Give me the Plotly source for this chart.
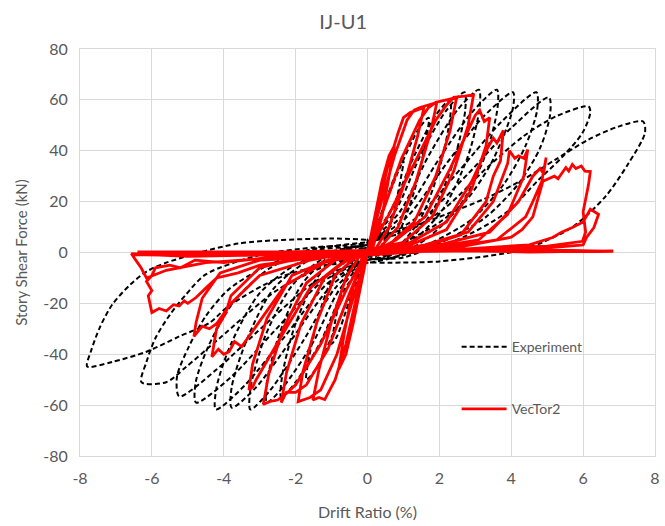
import plotly.graph_objects as go

# ---------------- Experiment (black dashed) cycles: (drift %, shear kN) ----------------
exp_c1 = [(0,0),(0.5,20),(0.85,33),(1.0,36),(0.95,31),(0.7,14),(0.4,3),(0.15,-1),(0,-2),
          (-0.5,-19),(-0.85,-33),(-1.0,-36),(-0.95,-31),(-0.7,-14),(-0.4,-3),(-0.15,1),(0,2)]
exp_c2 = [(0,1),(0.8,30),(1.4,48),(1.7,53),(1.65,46),(1.3,24),(0.8,6),(0.3,-1),(0,-2),
          (-0.8,-27),(-1.4,-45),(-1.7,-50),(-1.65,-43),(-1.3,-22),(-0.8,-5),(-0.3,1),(0,2)]
exp_c3 = [(0,2),(0.7,18),(1.3,38),(1.9,54),(2.3,60),(2.3,53),(2.0,33),(1.5,14),(0.9,3),(0.3,-2),(0,-3),
          (-0.7,-16),(-1.3,-35),(-2.0,-51),(-2.4,-57),(-2.38,-49),(-2.05,-30),(-1.5,-12),(-0.9,-2),(-0.3,2),(0,3)]
exp_c4 = [(0,3),(0.8,17),(1.5,39),(2.2,56),(2.7,63),(2.72,56),(2.4,36),(1.8,16),(1.1,4),(0.4,-2),(0,-3),
          (-0.8,-15),(-1.5,-35),(-2.3,-52),(-2.8,-59),(-2.8,-51),(-2.45,-32),(-1.85,-13),(-1.1,-2),(-0.4,2),(0,3)]
exp_c5 = [(0,3),(0.9,16),(1.7,38),(2.5,56),(3.1,64),(3.12,57),(2.8,38),(2.1,17),(1.3,5),(0.5,-2),(0,-3),
          (-0.9,-14),(-1.8,-35),(-2.7,-54),(-3.26,-61.7),(-3.25,-53),(-2.85,-33),(-2.1,-13),(-1.2,-2),(-0.4,2),(0,3)]
exp_c6 = [(0,3),(1.0,15),(2.0,37),(2.9,55),(3.6,64),(3.62,57),(3.3,39),(2.6,19),(1.7,6),(0.7,-2),(0,-3),
          (-1.0,-13),(-2.1,-34),(-3.1,-53),(-3.78,-61),(-3.78,-53),(-3.35,-34),(-2.6,-14),(-1.5,-2),(-0.5,2),(0,3)]
exp_c7 = [(0,3),(1.1,14),(2.2,35),(3.2,53),(4.05,63),(4.05,57),(3.78,45.6),(3.4,34),(2.76,20.8),(2.0,11.8),(0.9,3),(0,-3),
          (-1.1,-12),(-2.3,-33),(-3.4,-52),(-4.22,-61.7),(-4.2,-53),(-3.8,-36),(-3.0,-16),(-1.9,-4),(-0.7,1),(0,3)]
exp_c8 = [(0,3),(1.3,13),(2.6,33),(3.7,51),(4.7,63),(4.72,56),(4.4,42),(3.8,27),(2.9,13),(1.8,4),(0.7,-2),(0,-3),
          (-1.3,-12),(-2.6,-31),(-3.8,-49),(-4.77,-59),(-4.78,-51),(-4.4,-36),(-3.7,-19),(-2.7,-6),(-1.4,1),(0,3)]
exp_c9 = [(0,4),(1.4,12),(2.8,31),(4.0,49),(5.05,61),(5.08,54),(4.8,41),(4.2,27),(3.3,14),(2.2,5),(1.0,-2),(0,-3),
          (-1.4,-11),(-2.9,-29),(-4.2,-46),(-5.24,-56.6),(-5.3,-48.7),(-4.97,-37),(-4.5,-25),(-3.86,-14.5),(-2.84,-5.5),(-1.57,1.2),(0,4)]
exp_c10 = [(0,4),(1.2,9),(2.2,18),(3.3,33),(4.33,45.6),(5.24,53.5),(6.15,57.4),(6.2,55),(5.98,47),(5.43,37.7),(4.77,28.7),
           (3.86,15.7),(2.5,5),(1.0,-1),(0,-4),(-0.63,-2.8),(-2.48,-14.5),(-4.14,-34),(-5.05,-45),(-5.6,-51),(-6.29,-51),
           (-6.15,-43),(-5.9,-33.6),(-5.5,-24.5),(-5.05,-16.5),(-4.5,-8.6),(-3.0,-1),(-1.5,2),(0,4)]
exp_c11 = [(0,5),(1.0,9),(2.0,14),(3.4,22),(4.33,28.7),(5.24,36.6),(6.15,44.4),(6.98,49.5),(7.67,51.5),(7.72,47),
           (7.26,35),(6.62,22),(5.7,10),(4.33,1.2),(2.0,-3.5),(0.63,-4),(0,-4),(-1.2,-5),(-2.48,-10),(-3.86,-21),
           (-4.4,-27.7),(-5.24,-33),(-6.15,-39),(-7.1,-43),(-7.8,-44.8),(-7.7,-39),(-7.45,-29.5),(-7.1,-20.4),
           (-6.6,-12.6),(-6.15,-7.5),(-5.6,-4),(-3.6,3.5),(-1.0,5.5),(0,5)]

# ---------------- VecTor2 (red solid) cycles ----------------
vt_p0 = [(0,0),(0.2,14),(0.4,28),(0.6,38),(0.75,42),(0.6,30),(0.4,14),(0.15,2),(0,0)]
vt_n0 = [(-0.2,-14),(-0.4,-28),(-0.6,-40),(-0.8,-46),(-0.65,-32),(-0.4,-14),(-0.15,-2),(0,0)]
vt_p1 = [(0.25,15),(0.55,33),(0.85,47),(1.0,53),(1.19,55),(1.4,56),(1.57,57),(1.4,46),(1.05,28),(0.6,10),(0.25,2),(0,0)]
vt_n1 = [(-0.3,-17),(-0.6,-36),(-0.9,-50),(-1.19,-57.8),(-1.35,-57),(-1.52,-58),(-1.35,-46),(-1.0,-27),(-0.6,-10),(-0.25,-2),(0,0)]
vt_p2 = [(0.35,18),(0.75,38),(1.1,52),(1.3,56),(1.46,57),(1.7,58),(1.93,59),(1.75,47),(1.35,28),(0.85,10),(0.35,2),(0,0)]
vt_n2 = [(-0.4,-18),(-0.85,-40),(-1.3,-54),(-1.6,-57),(-1.93,-58.6),(-1.8,-47),(-1.4,-27),(-0.9,-9),(-0.35,-2),(0,0)]
vt_p3 = [(0.45,17),(0.95,37),(1.45,52),(1.7,57),(1.9,59),(2.2,60),(2.48,61),(2.3,48),(1.9,30),(1.3,12),(0.6,3),(0,1)]
vt_n3 = [(-0.5,-16),(-1.1,-38),(-1.7,-52),(-2.0,-55),(-2.26,-55),(-2.4,-59),(-2.25,-47),(-1.85,-28),(-1.2,-10),(-0.5,-2),(0,0)]
vt_p4 = [(0.6,15),(1.3,35),(1.9,52),(2.2,58),(2.4,61),(2.7,61.5),(2.95,62),(2.8,50),(2.4,32),(1.8,14),(1.0,4),(0,1)]
vt_n4 = [(-0.6,-15),(-1.3,-36),(-2.0,-52),(-2.3,-56),(-2.5,-58),(-2.7,-58.5),(-2.9,-59.7),(-2.75,-48),(-2.35,-30),(-1.7,-12),(-0.9,-3),(0,-1)]
vt_p5 = [(0.8,5),(1.6,14),(2.3,33),(2.8,48),(3.0,54),(3.12,56),(3.25,51.5),(3.4,53),(3.3,42),(2.9,25),(2.2,9),(1.2,3),(0,1)]
vt_n5 = [(-0.8,-5),(-1.6,-14),(-2.4,-33),(-2.98,-46.8),(-3.1,-50),(-3.2,-53),(-3.3,-54),(-3.2,-44),(-2.8,-26),(-2.1,-9),(-1.1,-3),(0,-1)]
vt_p6 = [(1.2,4),(2.2,12),(2.9,28),(3.3,40),(3.5,45),(3.6,43),(3.78,48),(3.7,36),(3.5,30),(3.3,20),(2.6,7),(1.5,2),(0,1)]
vt_n6 = [(-1.2,-4),(-2.3,-13),(-3.0,-27),(-3.5,-37),(-3.7,-35),(-3.85,-39),(-4.0,-40),(-4.15,-38),(-4.33,-41),(-4.2,-30),
         (-3.95,-24),(-3.8,-17),(-3.0,-6),(-1.8,-2),(0,-1)]
vt_p7 = [(1.6,3),(2.8,8),(3.5,20),(3.9,35),(3.95,40),(4.1,37),(4.2,38),(4.35,37),(4.46,40.5),(4.35,30),(4.1,22),(3.9,15),(3.1,5),(1.8,2),(0,1)]
vt_n7 = [(-1.6,-3),(-3.0,-9),(-3.8,-20),(-4.2,-28),(-4.4,-30),(-4.6,-29),(-4.83,-33),(-4.77,-27.5),(-4.6,-18),
         (-4.3,-12),(-4.1,-8),(-3.0,-3),(0,-1)]
vt_p8 = [(2.0,3),(3.4,8),(4.2,20),(4.6,30),(4.8,33),(4.9,31),(4.97,37.3),(4.85,28),(4.6,20),(4.4,14),(3.6,5),(2.0,1.5),(0,1)]
vt_n8 = [(-2.0,-3),(-3.0,-5),(-3.6,-8),(-4.2,-10),(-4.5,-14),(-4.77,-17.7),(-5.0,-20),(-5.1,-19),(-5.24,-21),(-5.4,-20.5),
         (-5.6,-23),(-5.8,-22),(-6.0,-23.6),(-6.05,-20),(-6.1,-17),(-6.0,-15),(-6.15,-11.4),(-6.0,-9),(-5.9,-6),
         (-5.5,-5),(-5.2,-6),(-4.8,-3),(-4.0,-4),(-2.5,-1.5),(0,-1)]
vt_p9 = [(2.5,2),(4.0,6),(4.3,9),(4.6,14),(4.88,28),(5.2,30),(5.3,29),(5.52,33.4),(5.6,32),(5.7,34.6),(5.8,33),(5.95,34),
         (6.05,32),(6.2,31.8),(6.15,26.7),(6.05,20),(6.0,16),(6.07,8),(5.98,4.4),(5.0,2.5),(3.0,1.5),(0,1)]
vt_n9 = [(-2.5,-2),(-4.5,-4),(-5.6,-7),(-6.15,-10),(-6.3,-6),(-6.4,-4),(-6.57,-0.5),(-5.0,-1.5),(-3.0,-1),(0,-1)]
vt_p10 = [(3.0,1.5),(4.5,3),(5.15,5.9),(5.4,8),(5.7,9.8),(6.0,12),(6.2,17),(6.43,15),(6.3,9.8),(6.1,6),(6.0,3),(4.5,1.2),(2.0,1),(0,0.8)]
vt_tail = [(-6.57,-0.8),(-4.5,-1.3),(-3.0,-1.0),(0,-0.5),(-6.4,0.2),(-3.0,0.3),(0,0.2),(3.0,0.6),(6.84,0.4),(3.5,1.5),(0,1.2),
           (4.5,0.2),(6.84,0.6)]

exp_cycles = [exp_c1, exp_c2, exp_c3, exp_c4, exp_c5, exp_c6, exp_c7, exp_c8, exp_c9, exp_c10, exp_c11]
vt_cycles = [vt_p0, vt_n0, vt_p1, vt_n1, vt_p2, vt_n2, vt_p3, vt_n3, vt_p4, vt_n4, vt_p5, vt_n5, vt_p6, vt_n6,
             vt_p7, vt_n7, vt_p8, vt_n8, vt_p9, vt_n9, vt_p10, vt_tail]

exp_x = [p[0] for c in exp_cycles for p in c]
exp_y = [p[1] for c in exp_cycles for p in c]
vt_x = [p[0] for c in vt_cycles for p in c]
vt_y = [p[1] for c in vt_cycles for p in c]

x_ticks = [-8, -6, -4, -2, 0, 2, 4, 6, 8]
x_labels = ["-8", "-6", "-4", "-2", "0", "2", "4", "6", "8"]
y_ticks = [-80, -60, -40, -20, 0, 20, 40, 60, 80]
y_labels = ["-80", "-60", "-40", "-20", "0", "20", "40", "60", "80"]

FONT = "Lato"
GRAY = "#595959"
GRID = "#d9d9d9"

fig = go.Figure()
fig.add_trace(go.Scatter(x=exp_x, y=exp_y, mode="lines", name="Experiment", legendgroup="a",
                         line=dict(color="black", width=2, dash="5px,3px", shape="spline", smoothing=0.8)))
fig.add_trace(go.Scatter(x=vt_x, y=vt_y, mode="lines", name="VecTor2", legendgroup="b",
                         line=dict(color="#ff0000", width=2.8)))

fig.update_layout(
    width=665, height=526,
    margin=dict(l=80, r=5, t=49, b=70),
    paper_bgcolor="white", plot_bgcolor="white",
    font=dict(family=FONT, color=GRAY, size=15),
    title=dict(text="IJ-U1", x=0.516, xref="container", xanchor="center",
               y=0.958, yref="container", yanchor="middle",
               font=dict(family=FONT, size=20, color=GRAY)),
    xaxis=dict(range=[-8, 8], tickvals=x_ticks, ticktext=x_labels, showgrid=True, gridcolor=GRID, gridwidth=1,
               zeroline=False, showline=True, mirror=True, linecolor=GRID, linewidth=1,
               ticks="", tickfont=dict(size=16, color=GRAY), ticklabelstandoff=8,
               title=dict(text="Drift Ratio (%)", font=dict(size=16, color=GRAY), standoff=20)),
    yaxis=dict(range=[-80, 80], tickvals=y_ticks, ticktext=y_labels, showgrid=True, gridcolor=GRID, gridwidth=1,
               zeroline=False, showline=True, mirror=True, linecolor=GRID, linewidth=1,
               ticks="", tickfont=dict(size=16, color=GRAY), ticklabelstandoff=8,
               title=dict(text="Story Shear Force (kN)", font=dict(size=15, color=GRAY), standoff=12)),
    legend=dict(x=0.655, y=0.307, xanchor="left", yanchor="top", bgcolor="rgba(0,0,0,0)",
                font=dict(size=14, color=GRAY), tracegroupgap=41, traceorder="grouped", itemwidth=45),
    showlegend=True,
)

fig.write_html("out.html")
